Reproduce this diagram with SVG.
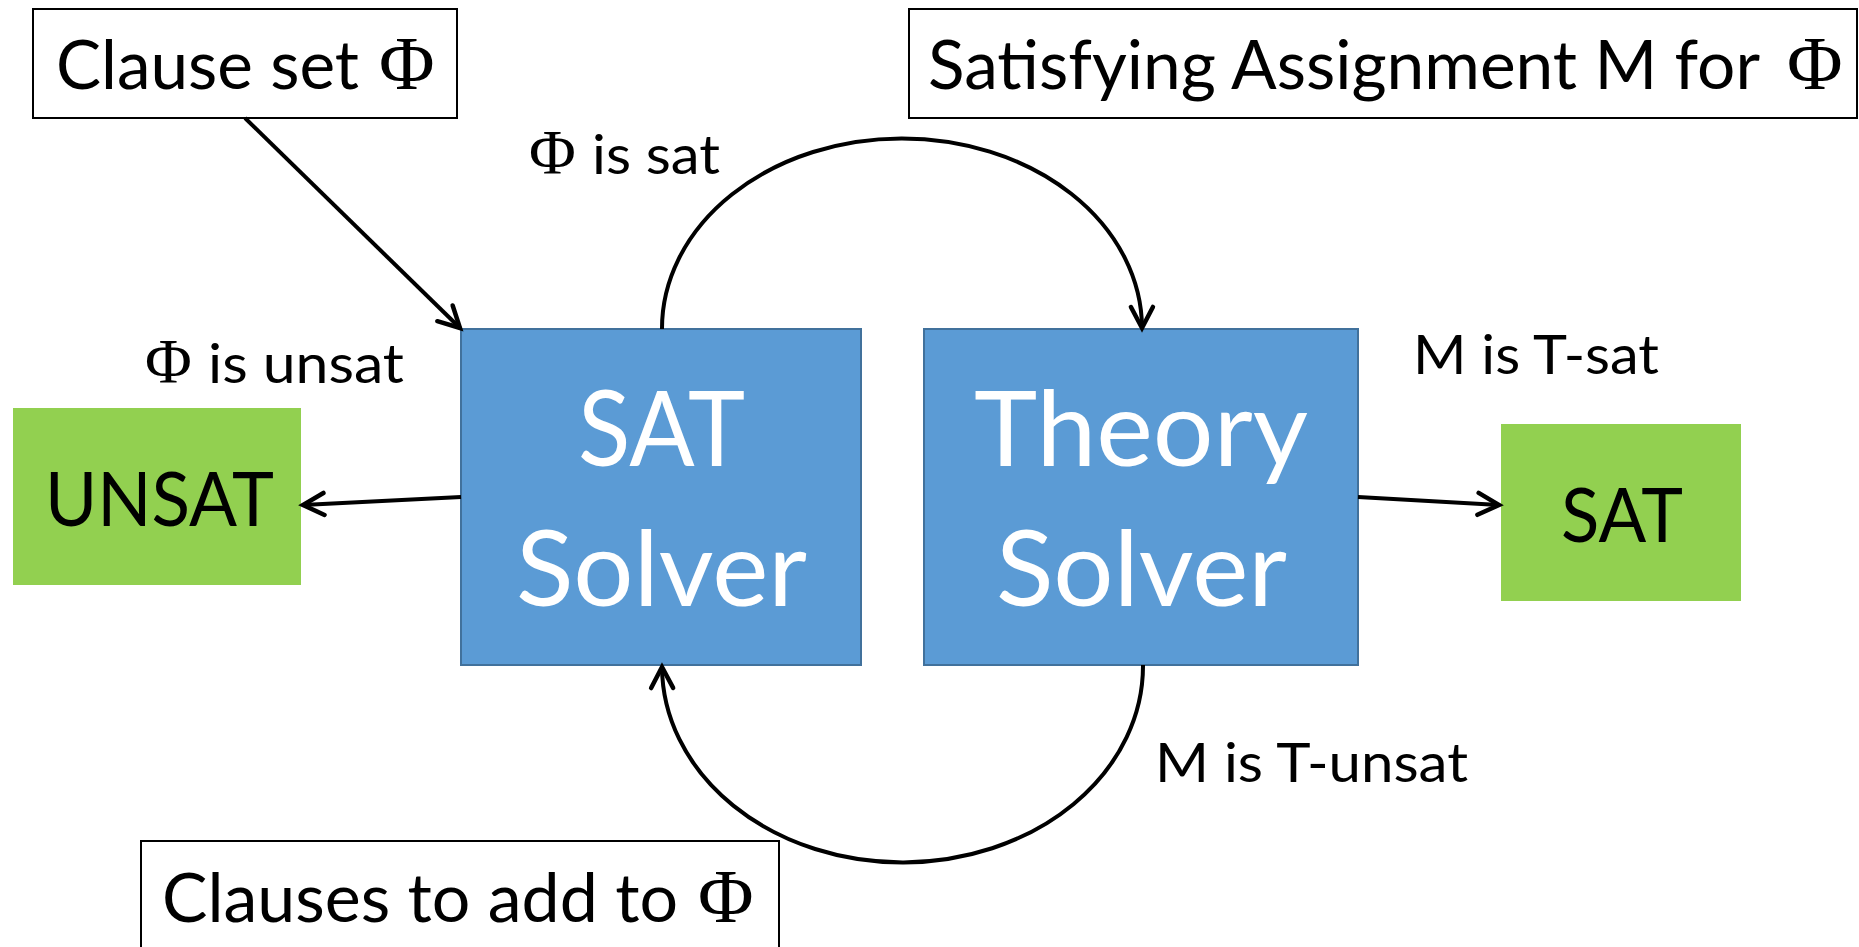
<svg xmlns="http://www.w3.org/2000/svg" width="1859" height="947" viewBox="0 0 1859 947">
<style>
.lbl{font-family:Lato,"Liberation Sans",sans-serif;fill:#000}
.phi{font-family:"Liberation Serif",serif;fill:#000}
.box{fill:#fff;stroke:#000;stroke-width:2}
.solver{fill:#5B9BD5;stroke:#41719C;stroke-width:2}
.res{fill:#92D050}
.wt{font-family:Lato,"Liberation Sans",sans-serif;fill:#fff;font-size:104px}
.bt{font-family:Lato,"Liberation Sans",sans-serif;fill:#000;font-size:76px}
.conn{fill:none;stroke:#000;stroke-width:4}
</style>
<defs>
<marker id="arr" markerUnits="userSpaceOnUse" markerWidth="60" markerHeight="60" refX="0" refY="0" viewBox="-30 -30 60 60" orient="auto" overflow="visible">
<path d="M -21 -11 L 0 0 L -21 11" fill="none" stroke="#000" stroke-width="4.5" stroke-linecap="round" stroke-linejoin="miter"/>
</marker>
</defs>
<g id="clause-set">
<rect class="box" x="33" y="9" width="424" height="109"/>
<text class="lbl" x="56" y="89" font-size="68" textLength="303" lengthAdjust="spacingAndGlyphs">Clause set</text>
<text class="phi" x="379" y="89" font-size="76">Φ</text>
</g>
<g id="satisfying-assignment">
<rect class="box" x="909" y="9" width="948" height="109"/>
<text class="lbl" x="928" y="89" font-size="68" textLength="832" lengthAdjust="spacingAndGlyphs">Satisfying Assignment M for</text>
<text class="phi" x="1787" y="89" font-size="76">Φ</text>
</g>
<g id="clauses-to-add">
<rect class="box" x="141" y="841" width="638" height="130"/>
<text class="lbl" x="162" y="922" font-size="68" textLength="516" lengthAdjust="spacingAndGlyphs">Clauses to add to</text>
<text class="phi" x="698" y="922" font-size="76">Φ</text>
</g>
<g id="sat-solver">
<rect class="solver" x="461" y="329" width="400" height="336"/>
<text class="wt" x="578" y="466" textLength="167" lengthAdjust="spacingAndGlyphs">SAT</text>
<text class="wt" x="516" y="606" textLength="291" lengthAdjust="spacingAndGlyphs">Solver</text>
</g>
<g id="theory-solver">
<rect class="solver" x="924" y="329" width="434" height="336"/>
<text class="wt" x="974" y="466" textLength="334" lengthAdjust="spacingAndGlyphs">Theory</text>
<text class="wt" x="996" y="606" textLength="291" lengthAdjust="spacingAndGlyphs">Solver</text>
</g>
<g id="unsat">
<rect class="res" x="13" y="408" width="288" height="177"/>
<text class="bt" x="45" y="526" textLength="229" lengthAdjust="spacingAndGlyphs">UNSAT</text>
</g>
<g id="sat">
<rect class="res" x="1501" y="424" width="240" height="177"/>
<text class="bt" x="1561" y="542" textLength="122" lengthAdjust="spacingAndGlyphs">SAT</text>
</g>
<g id="edge-labels">
<text class="phi" x="529" y="174" font-size="64">Φ</text>
<text class="lbl" x="592" y="174" font-size="55" textLength="128" lengthAdjust="spacingAndGlyphs">is sat</text>
<text class="phi" x="145" y="383" font-size="64">Φ</text>
<text class="lbl" x="208" y="383" font-size="55" textLength="196" lengthAdjust="spacingAndGlyphs">is unsat</text>
<text class="lbl" x="1413" y="374" font-size="55" textLength="246" lengthAdjust="spacingAndGlyphs">M is T-sat</text>
<text class="lbl" x="1155" y="782" font-size="55" textLength="313" lengthAdjust="spacingAndGlyphs">M is T-unsat</text>
</g>
<g id="connectors">
<path class="conn" d="M 245 118 L 460 328" marker-end="url(#arr)"/>
<path class="conn" d="M 461 497 L 303 505" marker-end="url(#arr)"/>
<path class="conn" d="M 1358 497 L 1499 505" marker-end="url(#arr)"/>
<path class="conn" d="M 662 329 A 240 190 0 0 1 1142 328" marker-end="url(#arr)"/>
<path class="conn" d="M 1143 665 A 240 196 0 0 1 662 667" marker-end="url(#arr)"/>
</g>
</svg>
